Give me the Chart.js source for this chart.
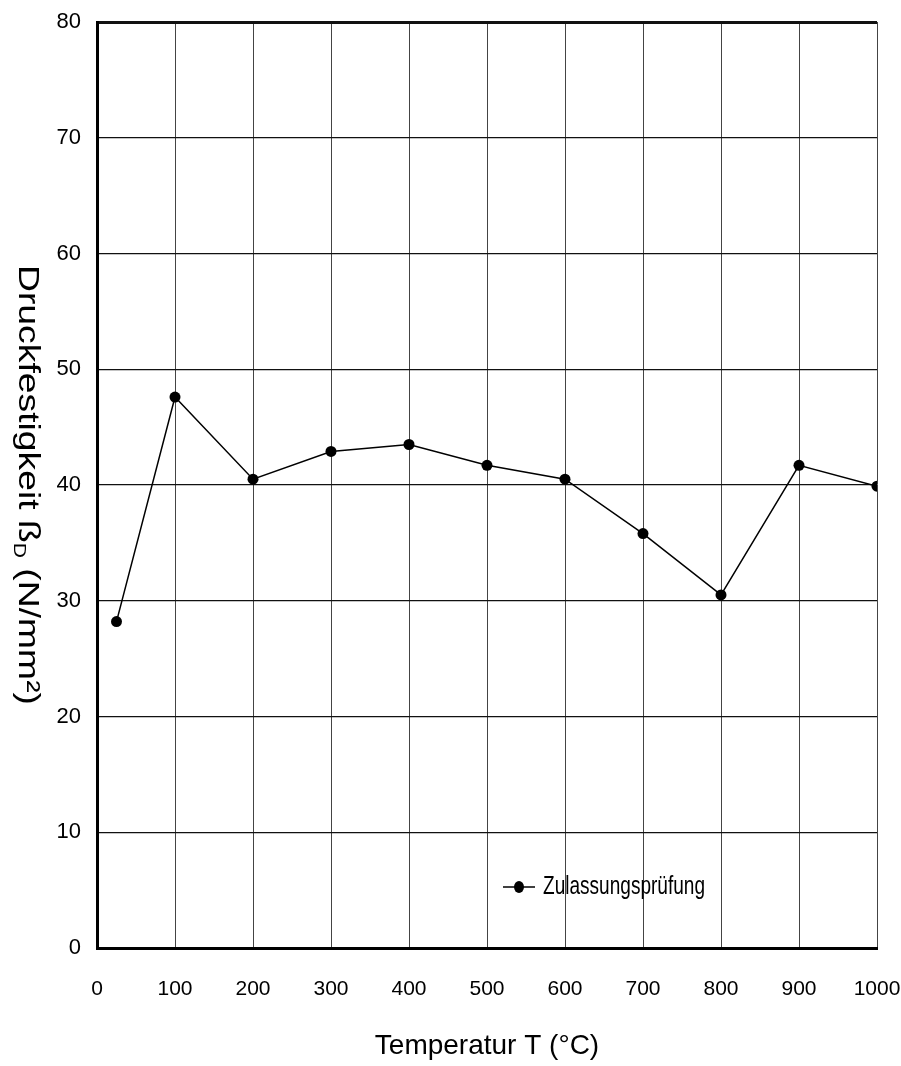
<!DOCTYPE html>
<html>
<head>
<meta charset="utf-8">
<script src="https://cdn.jsdelivr.net/npm/chart.js@4.4.1/dist/chart.umd.min.js"></script>
<style>
  html, body { margin: 0; padding: 0; background: #fff; }
  #wrap { width: 901px; height: 1066px; }
</style>
</head>
<body>
<div id="wrap"><canvas id="c" width="901" height="1066"></canvas></div>
<script>
// ---- data ----
const temperatures = [25, 100, 200, 300, 400, 500, 600, 700, 800, 900, 1000];
const strengths = [28.2, 47.6, 40.5, 42.9, 43.5, 41.7, 40.5, 35.8, 30.5, 41.7, 39.9];
const seriesLabel = 'Zulassungsprüfung';
const xTitle = 'Temperatur T (°C)';
const yTitleParts = ['Druckfestigkeit ß', 'D', ' (N/mm²)'];

const FONT = '"Liberation Sans", Arial, sans-serif';

const points = temperatures.map((t, i) => ({ x: t, y: strengths[i] }));

const yTitlePlugin = {
  id: 'yTitle',
  afterDraw(chart) {
    const ctx = chart.ctx;
    const area = chart.chartArea;
    const cy = (area.top + area.bottom) / 2;
    ctx.save();
    ctx.translate(27, cy);
    ctx.rotate(Math.PI / 2);
    const big = '30px ' + FONT;
    const small = '17px ' + FONT;
    ctx.font = big;
    const w1 = ctx.measureText(yTitleParts[0]).width;
    const w3 = ctx.measureText(yTitleParts[2]).width;
    ctx.font = small;
    const w2 = ctx.measureText(yTitleParts[1]).width;
    const total = w1 + w2 + w3;
    const target = 440;
    ctx.scale(target / total, 1);
    ctx.fillStyle = '#000';
    ctx.textBaseline = 'middle';
    ctx.textAlign = 'left';
    let x = -total / 2;
    ctx.font = big;
    ctx.fillText(yTitleParts[0], x, 0);
    x += w1;
    ctx.font = small;
    ctx.fillText(yTitleParts[1], x, 8);
    x += w2;
    ctx.font = big;
    ctx.fillText(yTitleParts[2], x, 0);
    ctx.restore();
  }
};

const legendPlugin = {
  id: 'innerLegend',
  afterDraw(chart) {
    const ctx = chart.ctx;
    const ds = chart.data.datasets[0];
    const y = 887;
    ctx.save();
    ctx.strokeStyle = ds.borderColor;
    ctx.lineWidth = 1.5;
    ctx.beginPath();
    ctx.moveTo(503, y);
    ctx.lineTo(535, y);
    ctx.stroke();
    ctx.fillStyle = ds.pointBackgroundColor;
    ctx.beginPath();
    ctx.ellipse(519, y, 5, 6, 0, 0, Math.PI * 2);
    ctx.fill();
    ctx.font = '25px ' + FONT;
    const w = ctx.measureText(ds.label).width;
    ctx.translate(543, y);
    ctx.scale(162 / w, 1);
    ctx.fillStyle = '#000';
    ctx.textBaseline = 'middle';
    ctx.textAlign = 'left';
    ctx.fillText(ds.label, 0, 0);
    ctx.restore();
  }
};

new Chart(document.getElementById('c'), {
  type: 'line',
  data: {
    datasets: [{
      label: seriesLabel,
      data: points,
      borderColor: '#000',
      backgroundColor: '#000',
      pointBackgroundColor: '#000',
      pointBorderColor: '#000',
      borderWidth: 1.5,
      pointRadius: 5.5,
      pointBorderWidth: 0,
      tension: 0,
      fill: false
    }]
  },
  options: {
    responsive: false,
    animation: false,
    devicePixelRatio: 1,
    layout: { padding: { left: 0, right: 24, top: 22, bottom: 0 } },
    plugins: {
      legend: { display: false },
      tooltip: { enabled: false }
    },
    scales: {
      x: {
        type: 'linear',
        min: 0,
        max: 1000,
        afterFit(scale) {
          scale.height = 118;
          scale.paddingLeft = 0;
          scale.paddingRight = 0;
        },
        ticks: {
          stepSize: 100,
          padding: 29,
          color: '#000',
          font: { family: FONT, size: 21 },
          maxRotation: 0,
          autoSkip: false,
          callback: (v) => String(v)
        },
        grid: {
          drawTicks: false,
          color: '#444',
          lineWidth: 1
        },
        border: { display: true, color: '#000', width: 3 },
        title: {
          display: true,
          text: xTitle,
          color: '#000',
          font: { family: FONT, size: 28 },
          padding: { top: 0, bottom: 3 }
        }
      },
      y: {
        min: 0,
        max: 80,
        afterFit(scale) {
          scale.width = 97;
          scale.paddingTop = 0;
          scale.paddingBottom = 0;
        },
        ticks: {
          stepSize: 10,
          padding: 16,
          color: '#000',
          font: { family: FONT, size: 22 }
        },
        grid: {
          drawTicks: false,
          color: '#111',
          lineWidth: (c) => (c.tick && c.tick.value === 80 ? 3 : 1.3)
        },
        border: { display: true, color: '#000', width: 3 }
      }
    }
  },
  plugins: [yTitlePlugin, legendPlugin]
});
</script>
</body>
</html>
